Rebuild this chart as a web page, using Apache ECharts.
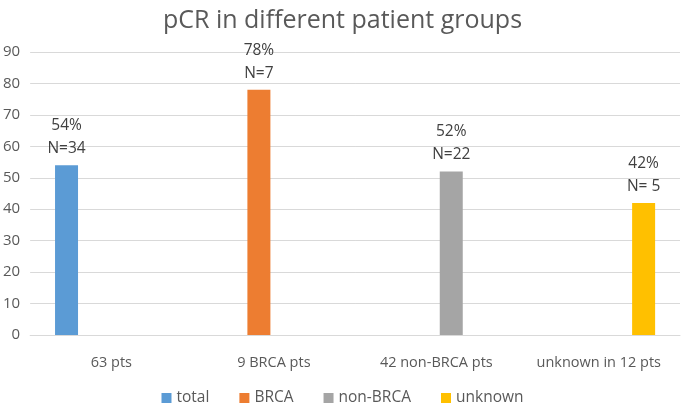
<!DOCTYPE html>
<html><head><meta charset="utf-8">
<script src="https://cdn.jsdelivr.net/npm/echarts@6/dist/echarts.min.js"></script>
<style>html,body{margin:0;padding:0;background:#fff}#c{width:685px;height:404px}</style>
</head><body><div id="c"></div>
<script>
const categories = ['63 pts', '9 BRCA pts', '42 non-BRCA pts', 'unknown in 12 pts'];
const seriesNames = ['total', 'BRCA', 'non-BRCA', 'unknown'];
const pcrValues = [54, 78, 52, 42];
const pctLabels = ['54%', '78%', '52%', '42%'];
const nLabels = ['N=34', 'N=7', 'N=22', 'N= 5'];
const yTicks = [0, 10, 20, 30, 40, 50, 60, 70, 80, 90];
const colors = ['#5B9BD5', '#ED7D31', '#A5A5A5', '#FFC000'];

const FONT = 'Open Sans';
const chart = echarts.init(document.getElementById('c'));
chart.setOption({
  animation: false,
  color: colors,
  textStyle: {fontFamily: FONT},
  title: {
    text: 'pCR in different patient groups',
    left: 'center', top: 3,
    textStyle: {fontFamily: FONT, fontSize: 25, fontWeight: 'normal', color: '#595959'}
  },
  legend: {
    top: 385, left: 'center',
    itemWidth: 10, itemHeight: 10, itemGap: 30,
    icon: 'rect',
    textStyle: {fontFamily: FONT, fontSize: 15.5, color: '#595959', padding: [0, 0, 0, 0]},
    data: seriesNames
  },
  grid: {left: 30, right: 5, top: 52, bottom: 69, containLabel: false},
  xAxis: {
    type: 'category', data: categories,
    axisLine: {lineStyle: {color: '#D9D9D9'}},
    axisTick: {show: false},
    axisLabel: {fontFamily: FONT, fontSize: 14.5, color: '#595959', margin: 20}
  },
  yAxis: {
    type: 'value', min: yTicks[0], max: yTicks[yTicks.length - 1], interval: 10,
    axisLine: {show: false}, axisTick: {show: false},
    splitLine: {lineStyle: {color: '#D9D9D9'}},
    axisLabel: {fontFamily: FONT, fontSize: 15, color: '#595959', margin: 10}
  },
  series: seriesNames.map((name, i) => ({
    name: name, type: 'bar', barWidth: 23, barGap: '30%',
    data: categories.map((c, j) => j === i ? pcrValues[i] : '-'),
    label: {
      show: true, position: 'top', distance: 5,
      fontFamily: FONT, fontSize: 15.5, color: '#404040', lineHeight: 23,
      formatter: () => pctLabels[i] + '\n' + nLabels[i]
    }
  }))
});
</script></body></html>
